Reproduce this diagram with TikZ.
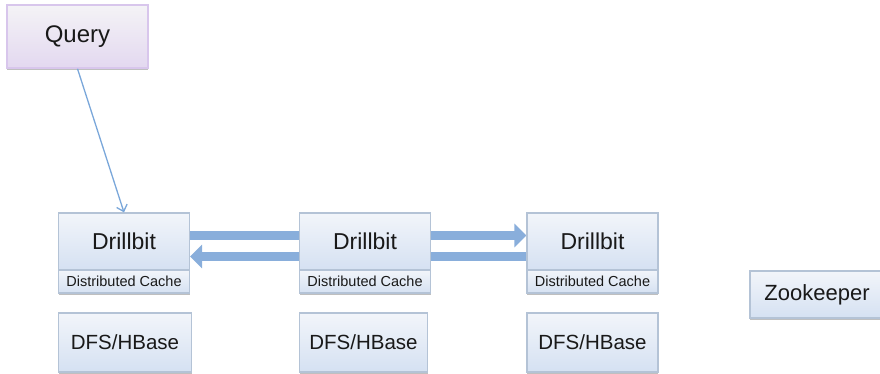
\documentclass[tikz,border=0pt]{standalone}
\usepackage{fontspec}
\setmainfont{Liberation Sans}
\usetikzlibrary{arrows.meta,shadows,backgrounds}
\definecolor{boxborder}{HTML}{B4C3D6}
\definecolor{boxtop}{HTML}{F2F5FA}
\definecolor{boxbot}{HTML}{D5E1F2}
\definecolor{qborder}{HTML}{D8C6EC}
\definecolor{qtop}{HTML}{F4F3F6}
\definecolor{qbot}{HTML}{E3D8F0}
\definecolor{fatarrow}{HTML}{89AEDB}
\definecolor{thinarrow}{HTML}{7AA7DA}
\tikzset{
  box/.style={draw=boxborder, line width=1.2pt, top color=boxtop, bottom color=boxbot,
    inner sep=0pt, text=black!90,
    drop shadow={shadow xshift=0pt, shadow yshift=-1.5pt, fill=black!25, opacity=1}},
  qbox/.style={draw=qborder, line width=1.5pt, top color=qtop, bottom color=qbot,
    inner sep=0pt, text=black!90,
    drop shadow={shadow xshift=0pt, shadow yshift=-2pt, fill=black!25, opacity=1}},
  fat/.style={draw=fatarrow, line width=9pt, -{Triangle[length=12pt,width=23pt]}},
  thin/.style={draw=thinarrow, line width=1.3pt, -{Straight Barb[length=6pt,width=11pt]}},
}
\begin{document}
\begin{tikzpicture}[x=1pt,y=-1pt]
\useasboundingbox (0,0) rectangle (880,373);
% Query
\node[qbox, minimum width=141pt, minimum height=63pt, font=\fontsize{24}{28}\selectfont] (q) at (77.5,36.5) {Query};
% Drillbits
\foreach \i/\cx in {1/124, 2/365, 3/592.5} {
  \node[box, minimum width=131pt, minimum height=57pt, font=\fontsize{23}{27}\selectfont] (db\i) at (\cx,241.5) {Drillbit};
  \node[box, minimum width=131pt, minimum height=23pt, font=\fontsize{14.5}{17}\selectfont] (dc\i) at (\cx,281.5) {Distributed Cache};
}
% DFS
\node[box, minimum width=133pt, minimum height=59pt, font=\fontsize{20.5}{24}\selectfont] (fs1) at (125,342.5) {DFS/HBase};
\node[box, minimum width=128pt, minimum height=59pt, font=\fontsize{20.5}{24}\selectfont] (fs2) at (363.5,342.5) {DFS/HBase};
\node[box, minimum width=131pt, minimum height=59pt, font=\fontsize{20.5}{24}\selectfont] (fs3) at (592.5,342.5) {DFS/HBase};
% Zookeeper
\node[box, minimum width=134pt, minimum height=47pt, font=\fontsize{22}{26}\selectfont] (zk) at (817,294.5) {Zookeeper};
% connectors
\begin{scope}[on background layer]
\draw[fat] ([yshift=6pt]db1.east) -- ([yshift=6pt]db3.west);
\draw[fat] ([yshift=-15pt]db3.west) -- ([yshift=-15pt]db1.east);
\end{scope}
\draw[thin] (q.south) -- (db1.north);
\end{tikzpicture}
\end{document}
